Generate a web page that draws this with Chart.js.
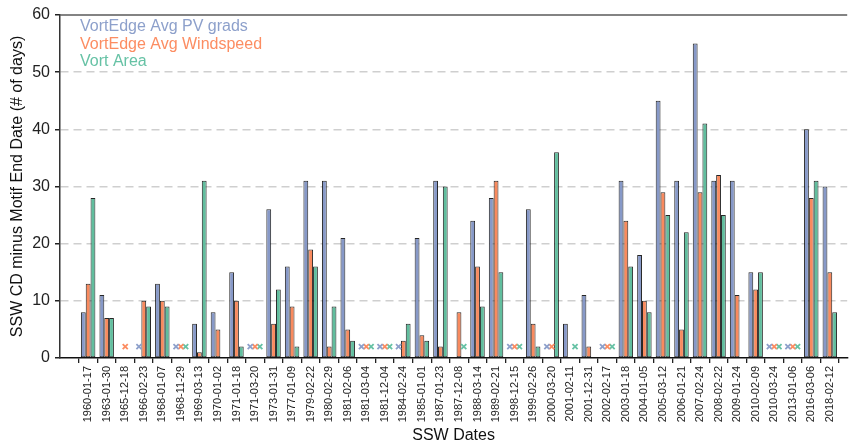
<!DOCTYPE html>
<html>
<head>
<meta charset="utf-8">
<script src="https://cdn.jsdelivr.net/npm/chart.js@4/dist/chart.umd.min.js"></script>
<style>
  html, body { margin: 0; padding: 0; background: #fff; overflow: hidden; }
  #wrap { width: 853px; height: 443px; }
</style>
</head>
<body>
<div id="wrap"><canvas id="c" width="853" height="443"></canvas></div>
<script>
// SSW central dates (x categories)
const sswDates = [
  '1960-01-17', '1963-01-30', '1965-12-18', '1966-02-23', '1968-01-07', '1968-11-29',
  '1969-03-13', '1970-01-02', '1971-01-18', '1971-03-20', '1973-01-31', '1977-01-09',
  '1979-02-22', '1980-02-29', '1981-02-06', '1981-03-04', '1981-12-04', '1984-02-24',
  '1985-01-01', '1987-01-23', '1987-12-08', '1988-03-14', '1989-02-21', '1998-12-15',
  '1999-02-26', '2000-03-20', '2001-02-11', '2001-12-31', '2002-02-17', '2003-01-18',
  '2004-01-05', '2005-03-12', '2006-01-21', '2007-02-24', '2008-02-22', '2009-01-24',
  '2010-02-09', '2010-03-24', '2013-01-06', '2016-03-06', '2018-02-12'
];

// Days between SSW central date and motif end date; null = no motif found
const pvGrads = [
  8, 11, 0, null, 13, null, 6, 8, 15, null, 26, 16, 31, 31, 21, null, null, null, 21, 31,
  0, 24, 28, null, 26, null, 6, 11, null, 31, 18, 45, 31, 55, 31, 31, 15, null, null, 40, 30
];
const windspeed = [
  13, 7, null, 10, 10, null, 1, 5, 10, null, 6, 9, 19, 2, 5, null, null, 3, 4, 2,
  8, 16, 31, null, 6, null, 0, 2, null, 24, 10, 29, 5, 29, 32, 11, 12, null, null, 28, 15
];
const vortArea = [
  28, 7, 0, 9, 9, null, 31, 0, 2, null, 12, 2, 16, 9, 3, null, null, 6, 3, 30,
  null, 9, 15, null, 2, 36, null, 0, null, 16, 8, 25, 22, 41, 25, 0, 15, null, null, 31, 8
];

const seriesNames = ['VortEdge Avg PV grads', 'VortEdge Avg Windspeed', 'Vort Area'];
const yTicks = [0, 10, 20, 30, 40, 50, 60];
const missingLevel = 2;   // height at which missing results are flagged with an x

const textColors = ['#8da0cb', '#fc8d62', '#66c2a5'];
const barColors = ['#8799c8', '#f98a5e', '#61be9e'];
const series = [pvGrads, windspeed, vortArea];

const GROUP = 0.78;            // fraction of a category used by a group of bars
const barStep = GROUP / 3;     // bar offset in category units

Chart.defaults.font.family = '"Liberation Sans", Arial, Helvetica, sans-serif';
Chart.defaults.color = '#222';

const barSets = series.map((vals, k) => ({
  type: 'bar',
  label: seriesNames[k],
  data: vals.map((v, i) => ({ x: i, y: v })),
  backgroundColor: barColors[k],
  borderColor: 'rgba(0,0,0,0.85)',
  borderWidth: 1,
  borderSkipped: false,
  categoryPercentage: GROUP,
  barPercentage: 1,
  textColor: textColors[k],
  order: 2
}));

const missSets = series.map((vals, k) => ({
  type: 'scatter',
  label: seriesNames[k] + ' (missing)',
  data: vals.map((v, i) => (v === null ? { x: i + (k - 1) * barStep, y: missingLevel } : null))
            .filter(p => p !== null),
  pointStyle: 'crossRot',
  radius: 3.6,
  borderWidth: 1.8,
  borderColor: textColors[k],
  backgroundColor: textColors[k],
  showLine: false,
  order: 1
}));

// top spine and the text-only legend in the upper-left corner of the plot
const framePlugin = {
  id: 'framePlugin',
  afterDraw(chart) {
    const { ctx, chartArea: a } = chart;
    ctx.save();
    ctx.strokeStyle = '#5a5a5a';
    ctx.lineWidth = 1.5;
    ctx.beginPath();
    ctx.moveTo(a.left, a.top);
    ctx.lineTo(a.right, a.top);
    ctx.stroke();

    ctx.font = '16px "Liberation Sans", Arial, sans-serif';
    ctx.textAlign = 'left';
    ctx.textBaseline = 'middle';
    chart.data.datasets.filter(d => d.type === 'bar').forEach((d, i) => {
      ctx.fillStyle = d.textColor;
      ctx.fillText(d.label, a.left + 20, a.top + 12 + i * 17.5);
    });
    ctx.restore();
  }
};

new Chart(document.getElementById('c'), {
  data: { datasets: [...barSets, ...missSets] },
  plugins: [framePlugin],
  options: {
    responsive: false,
    animation: false,
    layout: { padding: { top: 15, right: 0, left: 0, bottom: 0 } },
    plugins: {
      legend: { display: false },
      tooltip: { enabled: false }
    },
    scales: {
      x: {
        type: 'linear',
        min: -1,
        max: 40.42,
        afterBuildTicks: s => { s.ticks = sswDates.map((d, i) => ({ value: i })); },
        afterFit: s => { s.height = 85; },
        ticks: {
          autoSkip: false,
          minRotation: 90,
          maxRotation: 90,
          padding: 3,
          color: '#222',
          font: { size: 11 },
          callback: v => sswDates[v] ?? ''
        },
        grid: { drawOnChartArea: false, drawTicks: true, tickLength: 5, color: '#222', lineWidth: 1.3 },
        border: { display: true, color: '#111', width: 1.5 },
        title: {
          display: true,
          text: 'SSW Dates',
          color: '#111',
          font: { size: 16, lineHeight: 0.9 },
          padding: { top: 0, bottom: 0 }
        }
      },
      y: {
        min: 0,
        max: 60,
        afterBuildTicks: s => { s.ticks = yTicks.map(v => ({ value: v })); },
        afterFit: s => { s.width = 60; },
        ticks: { padding: 5, color: '#222', font: { size: 16 } },
        grid: {
          drawTicks: true,
          tickLength: 5,
          tickColor: '#222',
          lineWidth: 1.5,
          color: c => (c.tick && (c.tick.value === 0 || c.tick.value === 60)) ? 'rgba(0,0,0,0)' : '#cfcfcf'
        },
        border: { display: true, color: '#333', width: 1.5, dash: [8, 5] },
        title: {
          display: true,
          text: 'SSW CD minus Motif End Date (# of days)',
          color: '#111',
          font: { size: 16 },
          padding: { top: 8, bottom: 0 }
        }
      }
    }
  }
});
</script>
</body>
</html>
